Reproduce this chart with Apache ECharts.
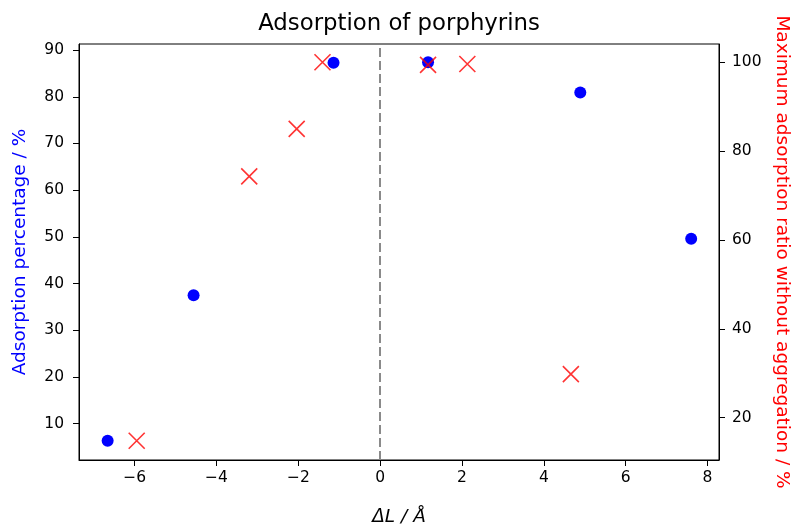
<!DOCTYPE html>
<html><head><meta charset="utf-8">
<script src="https://cdn.jsdelivr.net/npm/echarts@6/dist/echarts.min.js"></script>
<style>html,body{margin:0;padding:0;background:#fff}#c{width:798px;height:526px}</style>
</head><body><div id="c"></div>
<script>
const blueX = [-6.66, -4.56, -1.14, 1.17, 4.89, 7.60];
const blueY = [6.3, 37.5, 87.3, 87.4, 80.9, 49.6];
const redX = [-5.95, -3.20, -2.04, -1.41, 1.17, 2.13, 4.66];
const redY = [14.8, 74.3, 85.0, 100.0, 99.4, 99.6, 29.8];
const xTicks = [-6, -4, -2, 0, 2, 4, 6, 8];
const leftTicks = [10, 20, 30, 40, 50, 60, 70, 80, 90];
const rightTicks = [20, 40, 60, 80, 100];

const chart = echarts.init(document.getElementById('c'));
const font = 'DejaVu Sans';
const fmt = v => (v < 0 ? '\u2212' + Math.abs(v) : String(v));
const axisCommon = {
  axisLine: {show: true, onZero: false, lineStyle: {color: '#000', width: 1}},
  axisTick: {show: true, inside: false, length: 6, lineStyle: {color: '#000'}},
  splitLine: {show: false},
};
chart.setOption({
  animation: false,
  backgroundColor: '#fff',
  title: {text: 'Adsorption of porphyrins', left: 'center', top: 8,
    textStyle: {fontFamily: font, fontSize: 22.8, fontWeight: 'normal', color: '#000'}},
  grid: {left: 79, right: 79, top: 44, bottom: 66, show: true, borderColor: '#000', borderWidth: 1,
    containLabel: false, outerBoundsMode: 'none'},
  xAxis: Object.assign({}, axisCommon, {
    type: 'value', min: -7.36, max: 8.28,
    axisTick: Object.assign({}, axisCommon.axisTick, {customValues: xTicks}),
    axisLabel: {customValues: xTicks, formatter: fmt, fontFamily: font, fontSize: 15.5, color: '#000', margin: 10},
    name: '\u0394L / \u00C5', nameLocation: 'middle', nameGap: 48,
    nameTextStyle: {fontFamily: font, fontSize: 18.5, fontStyle: 'italic', color: '#000'}
  }),
  yAxis: [
    Object.assign({}, axisCommon, {
      type: 'value', position: 'left', min: 2.2, max: 91.3,
      axisTick: Object.assign({}, axisCommon.axisTick, {customValues: leftTicks}),
      axisLabel: {customValues: leftTicks, fontFamily: font, fontSize: 15.5, color: '#000', margin: 15},
      name: 'Adsorption percentage / %', nameLocation: 'middle', nameGap: 49, nameRotate: 90,
      nameTextStyle: {fontFamily: font, fontSize: 18.5, color: '#0000ff'}
    }),
    Object.assign({}, axisCommon, {
      type: 'value', position: 'right', min: 10.47, max: 104.1,
      axisTick: Object.assign({}, axisCommon.axisTick, {customValues: rightTicks}),
      axisLabel: {customValues: rightTicks, fontFamily: font, fontSize: 15.5, color: '#000', margin: 13},
      name: 'Maximum adsorption ratio without aggregation / %', nameLocation: 'middle', nameGap: 53, nameRotate: -90,
      nameTextStyle: {fontFamily: font, fontSize: 18.5, color: '#ff0000'}
    })
  ],
  series: [
    {type: 'scatter', yAxisIndex: 0, symbol: 'circle', symbolSize: 12,
     itemStyle: {color: '#0000ff', opacity: 1},
     data: blueX.map((x, i) => [x, blueY[i]]),
     markLine: {silent: true, symbol: 'none', label: {show: false},
       lineStyle: {color: '#8a8a8a', type: [9, 4], width: 2},
       data: [{xAxis: 0}]}},
    {type: 'scatter', yAxisIndex: 1, symbol: 'path://M0,0L10,10M10,0L0,10', symbolSize: 16,
     itemStyle: {color: 'none', borderColor: '#ff0000', borderWidth: 1.6, opacity: 0.8},
     data: redX.map((x, i) => [x, redY[i]])}
  ]
});
</script></body></html>
